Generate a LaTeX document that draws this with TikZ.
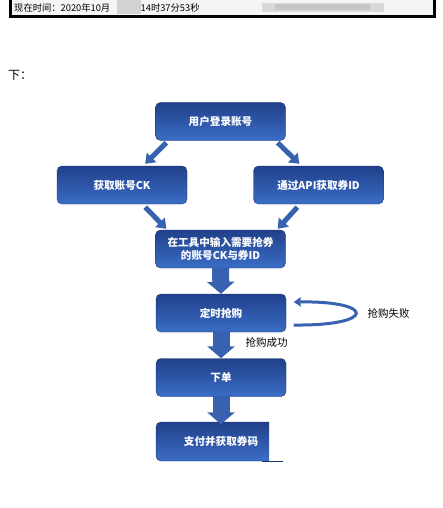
\documentclass[tikz,border=0pt]{standalone}
\usepackage{fontspec}
\newfontfamily\cjk{Noto Sans CJK SC}
\usetikzlibrary{arrows.meta,calc}
\definecolor{boxtop}{HTML}{21408A}
\definecolor{boxbot}{HTML}{3B6DC6}
\definecolor{boxedge}{HTML}{1C3670}
\definecolor{arrowblue}{HTML}{3862B0}
\tikzset{
  boxtext/.style={minimum width=130pt, minimum height=38pt, text=white, align=center, inner sep=0pt,
    font=\cjk\bfseries\fontsize{10.6}{13}\selectfont},
  boxshade/.style={rounded corners=5pt, top color=boxtop, bottom color=boxbot, draw=boxedge, line width=0.4pt},
  box/.style={boxtext, boxshade},
  diag/.style={draw=arrowblue, line width=5pt, -{Triangle[width=13pt,length=9pt]}},
  blockarrow/.style={draw=arrowblue, line width=17pt, -{Triangle[width=27pt,length=12pt]}},
  loopline/.style={draw=arrowblue, line width=3pt, -{Triangle[width=9pt,length=7pt]}},
  lbl/.style={font=\cjk\fontsize{10.5}{12}\selectfont, text=black, inner sep=0pt},
  toptext/.style={font=\cjk\fontsize{9.3}{10}\selectfont, text=black, inner sep=0pt, anchor=west}
}
\begin{document}
\begin{tikzpicture}[x=1pt,y=-1pt]
\useasboundingbox (0,0) rectangle (442,508);
\fill[white] (0,0) rectangle (442,508);
% top bar
\fill[gray!8] (10,0) rectangle (434,17);
\draw[black, line width=3pt] (10,0) -- (10,17) -- (434,17) -- (434,0);
\node[toptext] (t1) at (14,7.5) {现在时间：2020年10月};
\fill[gray!35] (117,0) rectangle (141,14);
\node[toptext] (t2) at (140.5,7.5) {14时37分53秒};
\fill[gray!30] (262,3) rectangle (384,12);
\fill[gray!45] (275,4.5) rectangle (370,10.5);
\node[font=\cjk\fontsize{12}{13}\selectfont, inner sep=0pt, anchor=west] (xia) at (8,75) {下：};
% boxes
\node[box] (b1) at (220.5,121.5) {用户登录账号};
\node[box] (b2) at (122,185) {获取账号CK};
\node[box] (b3) at (318.5,185) {通过API获取券ID};
\node[box] (b4) at (220.5,249) {在工具中输入需要抢券\\的账号CK与券ID};
\node[box] (b5) at (221,313) {定时抢购};
\node[box] (b6) at (221,377.5) {下单};
\begin{scope}
\clip (150,415) rectangle (269,470);
\path[boxshade] (156,422) rectangle (290,461);
\end{scope}
\draw[boxedge, line width=0.6pt] (262,461) -- (283,461);
\node[boxtext] (b7) at (221,441.5) {支付并获取券码};
% diagonal arrows
\draw[diag] ($(b1.south west)+(11,2)$) -- ($(b2.north east)+(-42,-2)$);
\draw[diag] ($(b1.south east)+(-8,2)$) -- ($(b3.north west)+(46,-2)$);
\draw[diag] ($(b2.south east)+(-42,3)$) -- ($(b4.north west)+(11,-1)$);
\draw[diag] ($(b3.south west)+(44,3)$) -- ($(b4.north east)+(-8,-1)$);
% vertical block arrows
\draw[blockarrow] ($(b4.south)+(0,-1)$) -- ($(b5.north)+(0,0)$);
\draw[blockarrow] ($(b5.south)+(0,-1)$) -- ($(b6.north)+(0,0)$);
\draw[blockarrow] ($(b6.south)+(0,-1)$) -- ($(b7.north)+(0,2)$);
% loop
\draw[loopline] ($(b5.east)+(7.5,12)$) .. controls (376,326) and (376,301) .. ($(b5.east)+(7.5,-11)$);
\node[lbl] (fail) at (388.5,313) {抢购失败};
\node[lbl] (ok) at (266.5,343) {抢购成功};
\end{tikzpicture}
\end{document}
